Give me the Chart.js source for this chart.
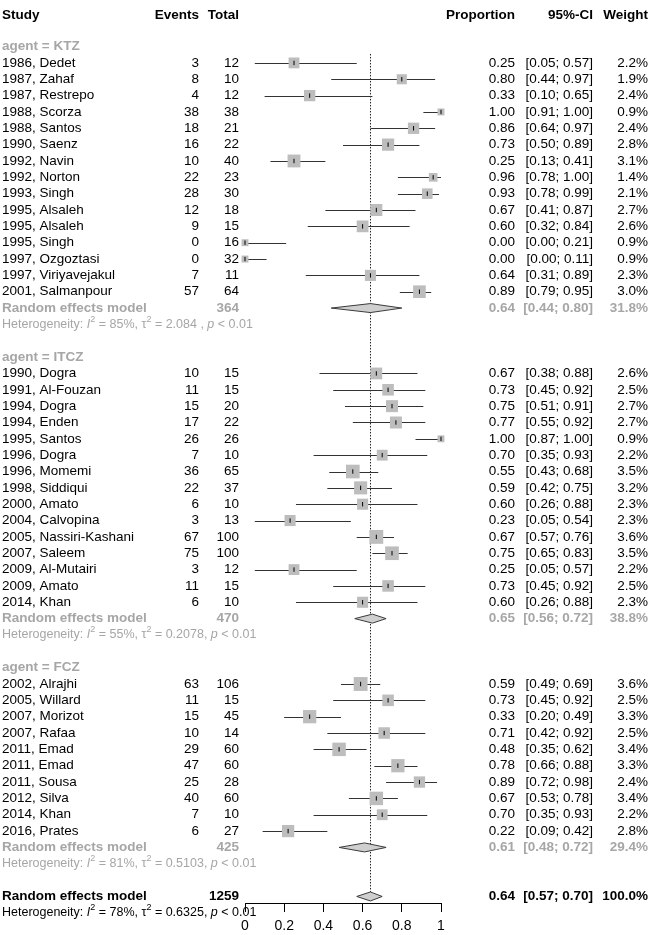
<!DOCTYPE html>
<html>
<head>
<meta charset="utf-8">
<script src="https://cdn.jsdelivr.net/npm/chart.js@4.4.0/dist/chart.umd.min.js"></script>
<style>
html, body { margin: 0; padding: 0; background: #fff; }
#wrap { width: 650px; height: 935px; position: relative; }
</style>
</head>
<body>
<div id="wrap"><canvas id="forest-chart"></canvas></div>
<script>
// subgroups
const groupNames = ["KTZ", "ITCZ", "FCZ"];

const ktzStudy = ["1986, Dedet", "1987, Zahaf", "1987, Restrepo", "1988, Scorza", "1988, Santos", "1990, Saenz", "1992, Navin", "1992, Norton", "1993, Singh", "1995, Alsaleh", "1995, Alsaleh", "1995, Singh", "1997, Ozgoztasi", "1997, Viriyavejakul", "2001, Salmanpour"];
const ktzEvents = [3, 8, 4, 38, 18, 16, 10, 22, 28, 12, 9, 0, 0, 7, 57];
const ktzTotal = [12, 10, 12, 38, 21, 22, 40, 23, 30, 18, 15, 16, 32, 11, 64];
const ktzProp = [0.25, 0.80, 0.33, 1.00, 0.86, 0.73, 0.25, 0.96, 0.93, 0.67, 0.60, 0.00, 0.00, 0.64, 0.89];
const ktzLower = [0.05, 0.44, 0.10, 0.91, 0.64, 0.50, 0.13, 0.78, 0.78, 0.41, 0.32, 0.00, 0.00, 0.31, 0.79];
const ktzUpper = [0.57, 0.97, 0.65, 1.00, 0.97, 0.89, 0.41, 1.00, 0.99, 0.87, 0.84, 0.21, 0.11, 0.89, 0.95];
const ktzWeight = [2.2, 1.9, 2.4, 0.9, 2.4, 2.8, 3.1, 1.4, 2.1, 2.7, 2.6, 0.9, 0.9, 2.3, 3.0];

const itczStudy = ["1990, Dogra", "1991, Al-Fouzan", "1994, Dogra", "1994, Enden", "1995, Santos", "1996, Dogra", "1996, Momemi", "1998, Siddiqui", "2000, Amato", "2004, Calvopina", "2005, Nassiri-Kashani", "2007, Saleem", "2009, Al-Mutairi", "2009, Amato", "2014, Khan"];
const itczEvents = [10, 11, 15, 17, 26, 7, 36, 22, 6, 3, 67, 75, 3, 11, 6];
const itczTotal = [15, 15, 20, 22, 26, 10, 65, 37, 10, 13, 100, 100, 12, 15, 10];
const itczProp = [0.67, 0.73, 0.75, 0.77, 1.00, 0.70, 0.55, 0.59, 0.60, 0.23, 0.67, 0.75, 0.25, 0.73, 0.60];
const itczLower = [0.38, 0.45, 0.51, 0.55, 0.87, 0.35, 0.43, 0.42, 0.26, 0.05, 0.57, 0.65, 0.05, 0.45, 0.26];
const itczUpper = [0.88, 0.92, 0.91, 0.92, 1.00, 0.93, 0.68, 0.75, 0.88, 0.54, 0.76, 0.83, 0.57, 0.92, 0.88];
const itczWeight = [2.6, 2.5, 2.7, 2.7, 0.9, 2.2, 3.5, 3.2, 2.3, 2.3, 3.6, 3.5, 2.2, 2.5, 2.3];

const fczStudy = ["2002, Alrajhi", "2005, Willard", "2007, Morizot", "2007, Rafaa", "2011, Emad", "2011, Emad", "2011, Sousa", "2012, Silva", "2014, Khan", "2016, Prates"];
const fczEvents = [63, 11, 15, 10, 29, 47, 25, 40, 7, 6];
const fczTotal = [106, 15, 45, 14, 60, 60, 28, 60, 10, 27];
const fczProp = [0.59, 0.73, 0.33, 0.71, 0.48, 0.78, 0.89, 0.67, 0.70, 0.22];
const fczLower = [0.49, 0.45, 0.20, 0.42, 0.35, 0.66, 0.72, 0.53, 0.35, 0.09];
const fczUpper = [0.69, 0.92, 0.49, 0.92, 0.62, 0.88, 0.98, 0.78, 0.93, 0.42];
const fczWeight = [3.6, 2.5, 3.3, 2.5, 3.4, 3.3, 2.4, 3.4, 2.2, 2.8];

// random effects per subgroup
const pooledTotal = [364, 470, 425];
const pooledProp = [0.64, 0.65, 0.61];
const pooledLower = [0.44, 0.56, 0.48];
const pooledUpper = [0.80, 0.72, 0.72];
const pooledWeight = [31.8, 38.8, 29.4];
const hetI2 = [85, 55, 81];
const hetTau2 = ["2.084 ", "0.2078", "0.5103"];

// overall random effects
const overallTotal = 1259;
const overallProp = 0.64;
const overallLower = 0.57;
const overallUpper = 0.70;
const overallWeight = 100.0;
const overallI2 = 78;
const overallTau2 = "0.6325";

const xTicks = [0, 0.2, 0.4, 0.6, 0.8, 1];

const groups = [
	{ study: ktzStudy, events: ktzEvents, total: ktzTotal, prop: ktzProp, lower: ktzLower, upper: ktzUpper, weight: ktzWeight },
	{ study: itczStudy, events: itczEvents, total: itczTotal, prop: itczProp, lower: itczLower, upper: itczUpper, weight: itczWeight },
	{ study: fczStudy, events: fczEvents, total: fczTotal, prop: fczProp, lower: fczLower, upper: fczUpper, weight: fczWeight }
];

// row layout, top to bottom
const rows = [];
let r = 0;
groups.forEach((g, gi) => {
	rows.push({ kind: "head", row: r++, gi: gi });
	g.study.forEach((s, i) => rows.push({ kind: "study", row: r++, gi: gi, i: i }));
	rows.push({ kind: "pooled", row: r++, gi: gi });
	rows.push({ kind: "het", row: r++, gi: gi });
	r++;
});
const overallRow = r;
const overallHetRow = r + 1;

const studyRows = rows.filter(d => d.kind === "study");
const pooledRows = rows.filter(d => d.kind === "pooled");

const squareData = studyRows.map(d => ({
	x: groups[d.gi].prop[d.i],
	y: d.row,
	w: groups[d.gi].weight[d.i]
}));

const FONT = "'Liberation Sans', Arial, sans-serif";
const GREY = "#a6a6a6";

function fmt2(v) { return v.toFixed(2); }
function ciText(lo, hi) { return "[" + fmt2(lo) + "; " + fmt2(hi) + "]"; }

function drawHet(ctx, x, y, i2, tau2, color) {
	const parts = [
		["Heterogeneity: ", ""],
		["I", "italic "],
		["2", "sup"],
		[" = " + i2 + "%, \u03c4", ""],
		["2", "sup"],
		[" = " + tau2 + ", ", ""],
		["p", "italic "],
		[" < 0.01", ""]
	];
	ctx.fillStyle = color;
	ctx.textAlign = "left";
	ctx.textBaseline = "middle";
	parts.forEach(p => {
		if (p[1] === "sup") {
			ctx.font = "9px " + FONT;
			ctx.fillText(p[0], x, y - 5);
		} else {
			ctx.font = p[1] + "12.5px " + FONT;
			ctx.fillText(p[0], x, y);
		}
		x += ctx.measureText(p[0]).width;
	});
}

function diamond(ctx, xs, ys, lo, mid, hi, yv) {
	const y = ys.getPixelForValue(yv);
	ctx.beginPath();
	ctx.moveTo(xs.getPixelForValue(lo), y);
	ctx.lineTo(xs.getPixelForValue(mid), y - 4.5);
	ctx.lineTo(xs.getPixelForValue(hi), y);
	ctx.lineTo(xs.getPixelForValue(mid), y + 4.5);
	ctx.closePath();
	ctx.fillStyle = "#cfcfcf";
	ctx.fill();
	ctx.strokeStyle = "#3a3a3a";
	ctx.lineWidth = 1;
	ctx.stroke();
}

const forestPlugin = {
	id: "forest",
	beforeDatasetsDraw(chart) {
		const ctx = chart.ctx;
		const xs = chart.scales.x, ys = chart.scales.y;
		ctx.save();
		// reference line at overall estimate
		ctx.strokeStyle = "#222";
		ctx.lineWidth = 1;
		ctx.setLineDash([1.5, 1.5]);
		ctx.beginPath();
		const xr = Math.round(xs.getPixelForValue(overallProp)) + 0.5;
		ctx.moveTo(xr, ys.getPixelForValue(0.45));
		ctx.lineTo(xr, ys.getPixelForValue(overallRow) - 4);
		ctx.stroke();
		ctx.setLineDash([]);
		// confidence intervals
		ctx.strokeStyle = "#333";
		studyRows.forEach(d => {
			const g = groups[d.gi];
			const y = Math.round(ys.getPixelForValue(d.row)) + 0.5;
			ctx.beginPath();
			ctx.moveTo(xs.getPixelForValue(g.lower[d.i]), y);
			ctx.lineTo(xs.getPixelForValue(g.upper[d.i]), y);
			ctx.stroke();
		});
		ctx.restore();
	},
	afterDatasetsDraw(chart) {
		const ctx = chart.ctx;
		const xs = chart.scales.x, ys = chart.scales.y;
		ctx.save();
		pooledRows.forEach(d => {
			diamond(ctx, xs, ys, pooledLower[d.gi], pooledProp[d.gi], pooledUpper[d.gi], d.row);
		});
		diamond(ctx, xs, ys, overallLower, overallProp, overallUpper, overallRow);
		ctx.restore();
	},
	afterDraw(chart) {
		const ctx = chart.ctx;
		const ys = chart.scales.y;
		const colStudy = 2, colEvents = 199, colTotal = 239, colProp = 515, colCI = 593, colW = 648;
		ctx.save();
		ctx.textBaseline = "middle";

		function cell(text, x, y, align, color, bold) {
			ctx.font = (bold ? "bold " : "") + "13.5px " + FONT;
			ctx.fillStyle = color;
			ctx.textAlign = align;
			ctx.fillText(text, x, y);
		}

		// header
		const hy = ys.getPixelForValue(-2) + 1;
		cell("Study", colStudy, hy, "left", "#000", true);
		cell("Events", colEvents, hy, "right", "#000", true);
		cell("Total", colTotal, hy, "right", "#000", true);
		cell("Proportion", colProp, hy, "right", "#000", true);
		cell("95%-CI", colCI, hy, "right", "#000", true);
		cell("Weight", colW, hy, "right", "#000", true);

		rows.forEach(d => {
			const y = ys.getPixelForValue(d.row);
			const gi = d.gi;
			if (d.kind === "head") {
				cell("agent = " + groupNames[gi], colStudy, y, "left", GREY, true);
			} else if (d.kind === "study") {
				const g = groups[gi];
				cell(g.study[d.i], colStudy, y, "left", "#000", false);
				cell(String(g.events[d.i]), colEvents, y, "right", "#000", false);
				cell(String(g.total[d.i]), colTotal, y, "right", "#000", false);
				cell(fmt2(g.prop[d.i]), colProp, y, "right", "#000", false);
				cell(ciText(g.lower[d.i], g.upper[d.i]), colCI, y, "right", "#000", false);
				cell(g.weight[d.i].toFixed(1) + "%", colW, y, "right", "#000", false);
			} else if (d.kind === "pooled") {
				cell("Random effects model", colStudy, y, "left", GREY, true);
				cell(String(pooledTotal[gi]), colTotal, y, "right", GREY, true);
				cell(fmt2(pooledProp[gi]), colProp, y, "right", GREY, true);
				cell(ciText(pooledLower[gi], pooledUpper[gi]), colCI, y, "right", GREY, true);
				cell(pooledWeight[gi].toFixed(1) + "%", colW, y, "right", GREY, true);
			} else if (d.kind === "het") {
				drawHet(ctx, colStudy, y, hetI2[gi], hetTau2[gi], GREY);
			}
		});

		const oy = ys.getPixelForValue(overallRow);
		cell("Random effects model", colStudy, oy, "left", "#000", true);
		cell(String(overallTotal), colTotal, oy, "right", "#000", true);
		cell(fmt2(overallProp), colProp, oy, "right", "#000", true);
		cell(ciText(overallLower, overallUpper), colCI, oy, "right", "#000", true);
		cell(overallWeight.toFixed(1) + "%", colW, oy, "right", "#000", true);
		drawHet(ctx, colStudy, ys.getPixelForValue(overallHetRow), overallI2, overallTau2, "#000");
		ctx.restore();
	}
};

const forestContext = document.getElementById("forest-chart").getContext("2d");
const forestChart = new Chart(forestContext, {
	type: "scatter",
	data: {
		datasets: [
			{
				label: "studies",
				data: squareData,
				order: 2,
				pointStyle: "rect",
				pointRadius: c => Math.sqrt(c.raw.w) * 7.3 * Math.SQRT1_2,
				backgroundColor: "#bdbdbd",
				borderWidth: 0,
				clip: false
			},
			{
				label: "estimates",
				data: squareData,
				order: 1,
				pointStyle: "line",
				rotation: 90,
				pointRadius: 2.2,
				borderColor: "#000",
				borderWidth: 1,
				clip: false
			}
		]
	},
	options: {
		responsive: true,
		maintainAspectRatio: false,
		animation: false,
		events: [],
		layout: { padding: { left: 245, right: 209, top: 0, bottom: 0 } },
		plugins: { legend: { display: false }, tooltip: { enabled: false } },
		scales: {
			x: {
				type: "linear",
				min: 0,
				max: 1,
				afterFit: s => { s.height = 32; },
				afterBuildTicks: s => { s.ticks = xTicks.map(v => ({ value: v })); },
				ticks: {
					color: "#000",
					font: { family: FONT, size: 14 },
					padding: 6,
					maxRotation: 0,
					autoSkip: false,
					callback: v => String(v)
				},
				grid: { drawOnChartArea: false, drawTicks: true, tickLength: 9, color: "#000", tickColor: "#000" },
				border: { display: true, color: "#000", width: 1 }
			},
			y: {
				type: "linear",
				display: false,
				reverse: true,
				min: -2.25,
				max: 52.4
			}
		}
	},
	plugins: [forestPlugin]
});
</script>
</body>
</html>
